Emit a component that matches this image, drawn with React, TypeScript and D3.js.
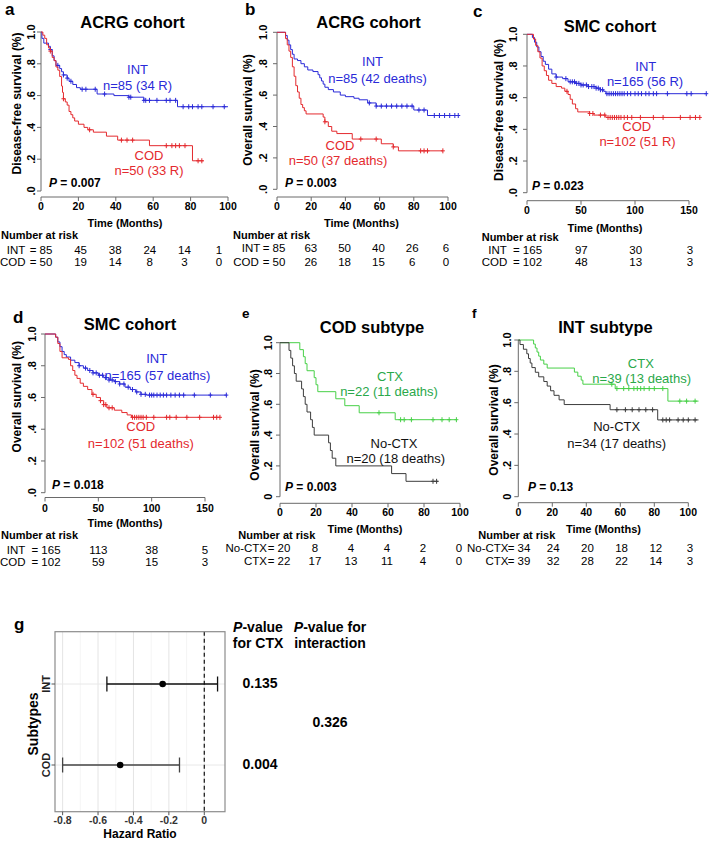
import * as d3 from "d3";

const FONT = "'Liberation Sans', Arial, Helvetica, sans-serif";
const BLUE = "#2a2ad8";
const RED = "#e42a2e";
const GREEN = "#48d048";
const GREEN_TEXT = "#2aa84a";
const DARK = "#3c3c3c";
const AXIS = "#6a6a6a";

// ---- Kaplan-Meier steps: [months, survival after step] ----
const acrgDfsInt = [[0, 1], [0.5, 0.96], [1.5, 0.93], [4, 0.91], [5, 0.89], [6, 0.85], [7, 0.82], [8, 0.79], [10, 0.77], [11, 0.75], [12, 0.73], [14, 0.71], [15, 0.69], [17, 0.67], [19, 0.65], [21, 0.64], [30, 0.61], [39, 0.6], [47, 0.59], [55, 0.57], [73, 0.53], [100, 0.53]];
const acrgDfsIntCens = [5, 9, 12, 14, 16, 22, 24, 29, 34, 47, 48, 55, 56, 58, 62, 67, 69, 72, 76, 79, 81, 84, 86, 92, 98];
const acrgDfsCod = [[0, 1], [1, 0.98], [2, 0.96], [3, 0.92], [4, 0.9], [5, 0.88], [6, 0.84], [7, 0.82], [8, 0.78], [9, 0.76], [10, 0.72], [11, 0.66], [11.5, 0.62], [12, 0.58], [13, 0.56], [14, 0.54], [15, 0.5], [16, 0.48], [17, 0.46], [18, 0.44], [20, 0.42], [23, 0.4], [25, 0.385], [28, 0.37], [35, 0.345], [41, 0.32], [58, 0.285], [81, 0.19], [87, 0.19]];
const acrgDfsCodCens = [5, 12, 26, 43, 46, 49, 67, 70, 72, 74, 77, 84, 86];

const acrgOsInt = [[0, 1], [5, 0.98], [6, 0.95], [7, 0.92], [8, 0.89], [9, 0.86], [10, 0.83], [12, 0.82], [14, 0.8], [16, 0.78], [18, 0.76], [21, 0.75], [24, 0.73], [25, 0.71], [26, 0.69], [27, 0.67], [28, 0.65], [30, 0.635], [33, 0.62], [37, 0.6], [40, 0.59], [45, 0.58], [48, 0.57], [53, 0.55], [58, 0.53], [80, 0.505], [88, 0.47], [106, 0.47]];
const acrgOsIntCens = [54, 58, 61, 64, 67, 70, 73, 76, 79, 83, 86, 92, 95, 98, 101, 104, 106];
const acrgOsCod = [[0, 1], [5, 0.96], [6, 0.92], [7, 0.88], [8, 0.84], [9, 0.78], [10, 0.72], [11, 0.66], [12, 0.62], [13, 0.58], [14, 0.54], [15, 0.52], [16, 0.5], [17, 0.48], [27, 0.46], [28, 0.43], [30, 0.4], [32, 0.37], [35, 0.355], [44, 0.32], [61, 0.29], [68, 0.27], [71, 0.245], [97, 0.245]];
const acrgOsCodCens = [28, 49, 58, 68, 84, 86, 88, 97];

const smcDfsInt = [[0, 1], [5, 0.98], [7, 0.95], [9, 0.92], [11, 0.89], [13, 0.86], [15, 0.83], [17, 0.81], [20, 0.78], [23, 0.75], [27, 0.73], [33, 0.72], [38, 0.7], [45, 0.69], [50, 0.68], [57, 0.67], [64, 0.66], [68, 0.65], [71, 0.64], [73, 0.625], [166, 0.625]];
const smcDfsIntCens = [27, 36, 40, 42, 44, 46, 48, 50, 52, 55, 57, 60, 62, 64, 66, 68, 70, 74, 76, 78, 80, 82, 84, 86, 88, 90, 93, 96, 100, 103, 106, 110, 113, 117, 120, 130, 148, 152, 166];
const smcDfsCod = [[0, 1], [6, 0.97], [8, 0.93], [10, 0.89], [12, 0.85], [14, 0.8], [16, 0.77], [18, 0.74], [20, 0.71], [23, 0.69], [27, 0.67], [32, 0.66], [35, 0.64], [38, 0.62], [40, 0.59], [42, 0.56], [45, 0.53], [47, 0.51], [58, 0.5], [62, 0.49], [73, 0.475], [160, 0.475]];
const smcDfsCodCens = [37, 58, 61, 68, 72, 75, 77, 79, 81, 83, 85, 87, 90, 93, 97, 105, 117, 126, 142, 151, 156, 160];

const smcOsInt = [[0, 1], [10, 0.98], [12, 0.95], [14, 0.92], [16, 0.89], [18, 0.87], [20, 0.855], [24, 0.835], [28, 0.82], [32, 0.8], [36, 0.785], [40, 0.77], [45, 0.755], [50, 0.74], [55, 0.725], [60, 0.71], [65, 0.7], [70, 0.685], [75, 0.665], [80, 0.65], [85, 0.635], [90, 0.62], [95, 0.615], [170, 0.615]];
const smcOsIntCens = [32, 38, 42, 45, 48, 51, 54, 57, 60, 63, 66, 70, 74, 78, 82, 86, 90, 94, 98, 100, 102, 105, 108, 111, 114, 118, 122, 126, 130, 140, 155, 170];
const smcOsCod = [[0, 1], [10, 0.98], [12, 0.94], [14, 0.89], [16, 0.85], [22, 0.84], [24, 0.8], [26, 0.77], [28, 0.74], [30, 0.72], [33, 0.69], [36, 0.67], [40, 0.65], [44, 0.62], [48, 0.6], [52, 0.58], [55, 0.555], [58, 0.535], [65, 0.52], [72, 0.505], [77, 0.49], [81, 0.475], [164, 0.475]];
const smcOsCodCens = [45, 52, 55, 57, 60, 63, 82, 84, 86, 88, 90, 92, 95, 102, 114, 117, 123, 133, 145, 158, 161, 164];

const codCtx = [[0, 1], [11, 0.955], [13, 0.909], [14, 0.864], [15, 0.818], [19, 0.773], [20, 0.727], [21, 0.682], [31, 0.636], [36, 0.591], [44, 0.545], [64, 0.5], [98, 0.5]];
const codCtxCens = [55, 67, 69, 73, 85, 90, 94, 98];
const codNoCtx = [[0, 1], [5, 0.95], [6, 0.9], [7, 0.85], [8, 0.8], [9, 0.75], [12, 0.7], [13, 0.65], [14, 0.6], [15, 0.55], [17, 0.5], [18, 0.45], [19, 0.4], [27, 0.35], [28, 0.3], [29, 0.25], [31, 0.2], [62, 0.15], [70, 0.1], [88, 0.1]];
const codNoCtxCens = [85, 87];

const intCtx = [[0, 1], [9, 0.974], [10, 0.949], [11, 0.923], [12, 0.897], [13, 0.872], [15, 0.846], [17, 0.821], [33, 0.795], [35, 0.769], [37, 0.744], [38, 0.718], [57, 0.69], [88, 0.61], [106, 0.61]];
const intCtxCens = [55, 58, 62, 65, 68, 70, 72, 74, 77, 80, 85, 95, 99, 104];
const intNoCtx = [[0, 1], [1, 0.971], [3, 0.941], [5, 0.912], [6, 0.882], [7, 0.853], [8, 0.824], [10, 0.794], [12, 0.765], [15, 0.735], [17, 0.706], [19, 0.676], [21, 0.647], [24, 0.618], [27, 0.588], [54, 0.555], [82, 0.49], [106, 0.49]];
const intNoCtxCens = [58, 63, 67, 71, 75, 79, 85, 87, 89, 94, 97, 100, 104];

// ---- axes ----
const survTicks = [0, 0.2, 0.4, 0.6, 0.8, 1];
const survLabelsDot = [".0", ".2", ".4", ".6", ".8", "1.0"];
const survLabelsZero = ["0", ".2", ".4", ".6", ".8", "1.0"];
const months100 = [0, 20, 40, 60, 80, 100];
const months150 = [0, 50, 100, 150];

// ---- numbers at risk ----
const acrgDfsRiskInt = [85, 45, 38, 24, 14, 1];
const acrgDfsRiskCod = [50, 19, 14, 8, 3, 0];
const acrgOsRiskInt = [85, 63, 50, 40, 26, 6];
const acrgOsRiskCod = [50, 26, 18, 15, 6, 0];
const smcDfsRiskInt = [165, 97, 30, 3];
const smcDfsRiskCod = [102, 48, 13, 3];
const smcOsRiskInt = [165, 113, 38, 5];
const smcOsRiskCod = [102, 59, 15, 3];
const codRiskNoCtx = [20, 8, 4, 4, 2, 0];
const codRiskCtx = [22, 17, 13, 11, 4, 0];
const intRiskNoCtx = [34, 24, 20, 18, 12, 3];
const intRiskCtx = [39, 32, 28, 22, 14, 3];

// ---- forest plot (g) ----
const subtypes = ["INT", "COD"];
const hrEst = [-0.235, -0.475];
const hrLow = [-0.55, -0.8];
const hrHigh = [0.075, -0.14];
const ctxP = ["0.135", "0.004"];
const interactionP = "0.326";
const hrMajor = [-0.8, -0.6, -0.4, -0.2, 0];
const hrMinor = [-0.7, -0.5, -0.3, -0.1];
const hrLabels = ["-0.8", "-0.6", "-0.4", "-0.2", "0"];

const panels = [
  {
    letter: "a", lx: 5, ly: 15, lsize: 17, title: "ACRG cohort", tx: 132.5, ty: 28,
    xMax: 100, xr: [41, 228], xTicks: months100, yr: [191, 32], axisY: 197,
    ylx: 31, ytitle: "Disease-free survival (%)", ytx: 16.7, yty: 103.5, yLabels: survLabelsDot,
    tickY: 206.7, timeX: 125, timeY: 223.3, pval: "0.007", px: 49, py: 182.7,
    curves: [
      { pts: acrgDfsInt, cens: acrgDfsIntCens, color: BLUE },
      { pts: acrgDfsCod, cens: acrgDfsCodCens, color: RED },
    ],
    labels: [
      { text: "INT", x: 137.5, y: 69, color: BLUE },
      { text: "n=85 (34 R)", x: 137.5, y: 85, color: BLUE },
      { text: "COD", x: 149, y: 155, color: RED },
      { text: "n=50 (33 R)", x: 149, y: 170, color: RED },
    ],
    narX: 1, narY: 235, riskX0: 41, riskXr: [46, 219],
    rows: [
      { label: "INT", lx: 6.7, anchor: "start", values: acrgDfsRiskInt, y: 250 },
      { label: "COD", lx: 0, anchor: "start", values: acrgDfsRiskCod, y: 261.7 },
    ],
  },
  {
    letter: "b", lx: 245, ly: 15, lsize: 17, title: "ACRG cohort", tx: 368.5, ty: 28,
    xMax: 100, xr: [277, 448], xTicks: months100, yr: [189.3, 32.3], axisY: 197,
    ylx: 263.3, ytitle: "Overall survival (%)", ytx: 247.5, yty: 110, yLabels: survLabelsDot,
    tickY: 206, timeX: 361.5, timeY: 223.3, pval: "0.003", px: 285, py: 182.7,
    curves: [
      { pts: acrgOsInt, cens: acrgOsIntCens, color: BLUE },
      { pts: acrgOsCod, cens: acrgOsCodCens, color: RED },
    ],
    labels: [
      { text: "INT", x: 372.5, y: 61.7, color: BLUE },
      { text: "n=85 (42 deaths)", x: 377.5, y: 78.3, color: BLUE },
      { text: "COD", x: 340, y: 145, color: RED },
      { text: "n=50 (37 deaths)", x: 338, y: 160, color: RED },
    ],
    narX: 233, narY: 235, riskX0: 274, riskXr: [277, 446],
    rows: [
      { label: "INT", lx: 241.7, anchor: "start", values: acrgOsRiskInt, y: 248.3 },
      { label: "COD", lx: 233.3, anchor: "start", values: acrgOsRiskCod, y: 261.7 },
    ],
  },
  {
    letter: "c", lx: 473, ly: 16.7, lsize: 17, title: "SMC cohort", tx: 610, ty: 31.7,
    xMax: 150, xr: [527, 689], xTicks: months150, yr: [192.7, 34.3], axisY: 200.7,
    ylx: 513.3, ytitle: "Disease-free survival (%)", ytx: 498.3, yty: 110, yLabels: survLabelsDot,
    tickY: 210.7, timeX: 605, timeY: 228.3, pval: "0.023", px: 532, py: 186,
    curves: [
      { pts: smcDfsInt, cens: smcDfsIntCens, color: BLUE },
      { pts: smcDfsCod, cens: smcDfsCodCens, color: RED },
    ],
    labels: [
      { text: "INT", x: 645.8, y: 66.7, color: BLUE },
      { text: "n=165 (56 R)", x: 645, y: 81.7, color: BLUE },
      { text: "COD", x: 636.7, y: 126.7, color: RED },
      { text: "n=102 (51 R)", x: 637.5, y: 141.7, color: RED },
    ],
    narX: 481.7, narY: 236.7, riskX0: 527.5, riskXr: [527, 690],
    rows: [
      { label: "INT", lx: 488.3, anchor: "start", values: smcDfsRiskInt, y: 250 },
      { label: "COD", lx: 481.7, anchor: "start", values: smcDfsRiskCod, y: 261.7 },
    ],
  },
  {
    letter: "d", lx: 13, ly: 323, lsize: 17, title: "SMC cohort", tx: 130, ty: 330,
    xMax: 150, xr: [45, 205], xTicks: months150, yr: [492.7, 334], axisY: 497.5,
    ylx: 31.7, ytitle: "Overall survival (%)", ytx: 16.7, yty: 396.7, yLabels: survLabelsDot,
    tickY: 508.3, timeX: 125, timeY: 523.3, pval: "0.018", px: 52, py: 485,
    curves: [
      { pts: smcOsInt, cens: smcOsIntCens, color: BLUE },
      { pts: smcOsCod, cens: smcOsCodCens, color: RED },
    ],
    labels: [
      { text: "INT", x: 156.7, y: 358.3, color: BLUE },
      { text: "n=165 (57 deaths)", x: 157.5, y: 375, color: BLUE },
      { text: "COD", x: 140.8, y: 426.7, color: RED },
      { text: "n=102 (51 deaths)", x: 140.8, y: 443.3, color: RED },
    ],
    narX: 1, narY: 535, riskX0: 46, riskXr: [45, 205],
    rows: [
      { label: "INT", lx: 6.7, anchor: "start", values: smcOsRiskInt, y: 550 },
      { label: "COD", lx: 0, anchor: "start", values: smcOsRiskCod, y: 561.7 },
    ],
  },
  {
    letter: "e", lx: 242, ly: 318, lsize: 13.5, title: "COD subtype", tx: 372, ty: 333,
    xMax: 100, xr: [280, 460], xTicks: months100, yr: [496.7, 342.7], axisY: 503.3,
    ylx: 268.3, ytitle: "Overall survival (%)", ytx: 255, yty: 425, yLabels: survLabelsZero,
    tickY: 512.3, timeX: 365, timeY: 529.3, pval: "0.003", px: 285, py: 486.7,
    curves: [
      { pts: codCtx, cens: codCtxCens, color: GREEN },
      { pts: codNoCtx, cens: codNoCtxCens, color: DARK },
    ],
    labels: [
      { text: "CTX", x: 390, y: 376.7, color: GREEN_TEXT },
      { text: "n=22 (11 deaths)", x: 389, y: 391.7, color: GREEN_TEXT },
      { text: "No-CTX", x: 394, y: 443.3, color: "#111" },
      { text: "n=20 (18 deaths)", x: 395.8, y: 458.3, color: "#111" },
    ],
    narX: 238.3, narY: 535, riskX0: 279, riskXr: [279, 459],
    rows: [
      { label: "No-CTX", lx: 267, anchor: "end", values: codRiskNoCtx, y: 548.3 },
      { label: "CTX", lx: 267, anchor: "end", values: codRiskCtx, y: 560.7 },
    ],
  },
  {
    letter: "f", lx: 472, ly: 318, lsize: 13.5, title: "INT subtype", tx: 605.5, ty: 333,
    xMax: 100, xr: [518.3, 688.3], xTicks: months100, yr: [496.7, 340], axisY: 502.7,
    ylx: 506.7, ytitle: "Overall survival (%)", ytx: 493.3, yty: 420, yLabels: survLabelsZero,
    tickY: 512.3, timeX: 603.5, timeY: 529.3, pval: "0.13", px: 528, py: 486.7,
    curves: [
      { pts: intCtx, cens: intCtxCens, color: GREEN },
      { pts: intNoCtx, cens: intNoCtxCens, color: DARK },
    ],
    labels: [
      { text: "CTX", x: 640.8, y: 363.3, color: GREEN_TEXT },
      { text: "n=39 (13 deaths)", x: 641.7, y: 378.3, color: GREEN_TEXT },
      { text: "No-CTX", x: 616.7, y: 426.7, color: "#111" },
      { text: "n=34 (17 deaths)", x: 616.7, y: 443.3, color: "#111" },
    ],
    narX: 478.3, narY: 535, riskX0: 519, riskXr: [519, 690],
    rows: [
      { label: "No-CTX", lx: 508.5, anchor: "end", values: intRiskNoCtx, y: 548.3 },
      { label: "CTX", lx: 508.5, anchor: "end", values: intRiskCtx, y: 560.7 },
    ],
  },
];

const survAt = (pts, t) => {
  let s = pts[0][1];
  for (const d of pts) if (d[0] <= t) s = d[1];
  return s;
};

function KMPanel({ p }) {
  const x = d3.scaleLinear().domain([0, p.xMax]).range(p.xr);
  const y = d3.scaleLinear().domain([0, 1]).range(p.yr);
  const rx = d3.scaleLinear().domain([0, p.xMax]).range(p.riskXr);
  const line = d3.line().x((d) => x(d[0])).y((d) => y(d[1])).curve(d3.curveStepAfter);

  return (
    <g>
      <text x={p.lx} y={p.ly} fontSize={p.lsize} fontWeight="bold">{p.letter}</text>
      <text x={p.tx} y={p.ty} fontSize={16.5} fontWeight="bold" textAnchor="middle">{p.title}</text>

      {/* y axis */}
      <line x1={x(0)} x2={x(0)} y1={y(0)} y2={y(1)} stroke={AXIS} />
      {survTicks.map((v, i) => (
        <g key={"yt" + i}>
          <line x1={x(0) - 4} x2={x(0)} y1={y(v)} y2={y(v)} stroke={AXIS} />
          <text transform={`translate(${p.ylx},${y(v)}) rotate(-90)`} textAnchor="middle" dy="0.35em"
            fontSize={11} fontWeight="bold">{p.yLabels[i]}</text>
        </g>
      ))}
      <text transform={`translate(${p.ytx},${p.yty}) rotate(-90)`} textAnchor="middle" dy="0.35em"
        fontSize={12} fontWeight="bold">{p.ytitle}</text>

      {/* x axis */}
      <line x1={x(0)} x2={x(p.xMax)} y1={p.axisY} y2={p.axisY} stroke={AXIS} />
      {p.xTicks.map((t) => (
        <g key={"xt" + t}>
          <line x1={x(t)} x2={x(t)} y1={p.axisY} y2={p.axisY + 4} stroke={AXIS} />
          <text x={x(t)} y={p.tickY} dy="0.35em" textAnchor="middle" fontSize={10.5} fontWeight="bold">{t}</text>
        </g>
      ))}
      <text x={p.timeX} y={p.timeY} dy="0.35em" textAnchor="middle" fontSize={11} fontWeight="bold">Time (Months)</text>

      {/* curves */}
      {p.curves.map((c, i) => (
        <g key={"c" + i} stroke={c.color} fill="none" strokeWidth={1}>
          <path d={line(c.pts)} />
          {c.cens.map((t, j) => {
            const cx = x(t);
            const cy = y(survAt(c.pts, t));
            return (
              <g key={j}>
                <line x1={cx} x2={cx} y1={cy - 2.5} y2={cy + 2.5} />
                <line x1={cx - 2} x2={cx + 2} y1={cy} y2={cy} />
              </g>
            );
          })}
        </g>
      ))}

      {p.labels.map((l, i) => (
        <text key={"l" + i} x={l.x} y={l.y} dy="0.35em" textAnchor="middle" fontSize={13} fill={l.color}>{l.text}</text>
      ))}

      <text x={p.px} y={p.py} dy="0.35em" fontSize={12} fontWeight="bold">
        <tspan fontStyle="italic">P</tspan> = {p.pval}
      </text>

      {/* numbers at risk */}
      <text x={p.narX} y={p.narY} dy="0.35em" fontSize={11} fontWeight="bold">Number at risk</text>
      {p.rows.map((r, i) => (
        <g key={"r" + i} fontSize={11.5}>
          <text x={r.lx} y={r.y} dy="0.35em" textAnchor={r.anchor}>{r.label}</text>
          {r.values.map((v, j) => (
            <text key={j} x={j === 0 ? p.riskX0 : rx(p.xTicks[j])} y={r.y} dy="0.35em" textAnchor="middle">
              {j === 0 ? `= ${v}` : v}
            </text>
          ))}
        </g>
      ))}
    </g>
  );
}

function ForestPanel() {
  const left = 55, right = 225, top = 631.7, bottom = 811.7;
  const x = d3.scaleLinear().domain([-0.843, 0.117]).range([left, right]);
  const y = d3.scalePoint().domain(subtypes).range([684, 765]);

  return (
    <g>
      <text x={14} y={630} fontSize={17} fontWeight="bold">g</text>
      {hrMinor.map((v) => (
        <line key={"mn" + v} x1={x(v)} x2={x(v)} y1={top} y2={bottom} stroke="#f2f2f2" strokeWidth={0.8} />
      ))}
      {hrMajor.map((v) => (
        <line key={"mj" + v} x1={x(v)} x2={x(v)} y1={top} y2={bottom} stroke="#e4e4e4" strokeWidth={1} />
      ))}
      {subtypes.map((s) => (
        <line key={"hg" + s} x1={left} x2={right} y1={y(s)} y2={y(s)} stroke="#e8e8e8" strokeWidth={1} />
      ))}
      <line x1={x(0)} x2={x(0)} y1={top} y2={bottom} stroke="#111" strokeWidth={1.2} strokeDasharray="4,3" />
      {subtypes.map((s, i) => {
        const col = i === 0 ? "#111" : "#444";
        return (
          <g key={"bar" + s} stroke={col} strokeWidth={1.3}>
            <line x1={x(hrLow[i])} x2={x(hrHigh[i])} y1={y(s)} y2={y(s)} />
            <line x1={x(hrLow[i])} x2={x(hrLow[i])} y1={y(s) - 7.5} y2={y(s) + 7.5} />
            <line x1={x(hrHigh[i])} x2={x(hrHigh[i])} y1={y(s) - 7.5} y2={y(s) + 7.5} />
            <circle cx={x(hrEst[i])} cy={y(s)} r={3.3} fill="#000" stroke="none" />
          </g>
        );
      })}
      <rect x={left} y={top} width={right - left} height={bottom - top} fill="none" stroke="#8c8c8c" strokeWidth={1.2} />
      {hrMajor.map((v, i) => (
        <g key={"xl" + v}>
          <line x1={x(v)} x2={x(v)} y1={bottom} y2={bottom + 3.5} stroke="#555" />
          <text x={x(v)} y={820} dy="0.35em" textAnchor="middle" fontSize={10.5} fontWeight="bold" fill="#333">{hrLabels[i]}</text>
        </g>
      ))}
      <text x={140} y={833.3} dy="0.35em" textAnchor="middle" fontSize={12} fontWeight="bold">Hazard Ratio</text>
      {subtypes.map((s) => (
        <g key={"yl" + s}>
          <line x1={left - 3.5} x2={left} y1={y(s)} y2={y(s)} stroke="#555" />
          <text transform={`translate(46.5,${y(s)}) rotate(-90)`} textAnchor="middle" dy="0.35em" fontSize={11} fontWeight="bold" fill="#222">{s}</text>
        </g>
      ))}
      <text transform="translate(33,724) rotate(-90)" textAnchor="middle" dy="0.35em" fontSize={14} fontWeight="bold">Subtypes</text>

      <g fontSize={14} fontWeight="bold" textAnchor="middle">
        <text x={258} y={627.3} dy="0.35em"><tspan fontStyle="italic">P</tspan>-value</text>
        <text x={258} y={643.3} dy="0.35em">for CTX</text>
        <text x={330} y={627.3} dy="0.35em"><tspan fontStyle="italic">P</tspan>-value for</text>
        <text x={330} y={643.3} dy="0.35em">interaction</text>
        {subtypes.map((s, i) => (
          <text key={"p" + s} x={260} y={y(s) - 1} dy="0.35em">{ctxP[i]}</text>
        ))}
        <text x={330} y={721.7} dy="0.35em">{interactionP}</text>
      </g>
    </g>
  );
}

export default function App() {
  return (
    <svg width={709} height={841} viewBox="0 0 709 841"
      style={{ position: "absolute", left: 0, top: 0, background: "#fff" }}
      fontFamily={FONT} fill="#000">
      {panels.map((p) => (
        <KMPanel key={p.letter} p={p} />
      ))}
      <ForestPanel />
    </svg>
  );
}
